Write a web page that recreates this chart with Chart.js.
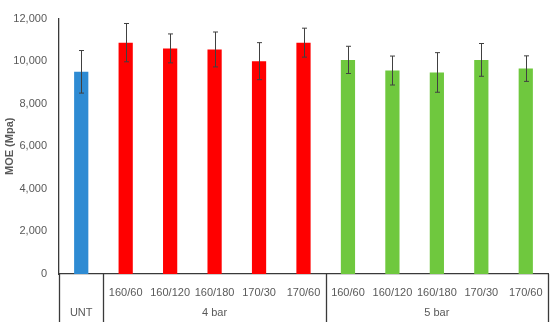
<!DOCTYPE html>
<html>
<head>
<meta charset="utf-8">
<script src="https://cdn.jsdelivr.net/npm/chart.js@4/dist/chart.umd.min.js"></script>
<style>
  html, body { margin: 0; padding: 0; background: #fff; }
  #wrap { width: 550px; height: 325px; }
</style>
</head>
<body>
<div id="wrap"><canvas id="moe-chart"></canvas></div>
<script>
// data
const categories = ['', '160/60', '160/120', '160/180', '170/30', '170/60', '160/60', '160/120', '160/180', '170/30', '170/60'];
const groupNames = ['UNT', '4 bar', '5 bar'];
const groupSizes = [1, 5, 5];
const moeValues = [9500, 10870, 10600, 10550, 10000, 10870, 10060, 9560, 9470, 10060, 9650];
const moeErrors = [1000, 900, 680, 820, 870, 680, 640, 680, 930, 770, 600];
const yTicks = [0, 2000, 4000, 6000, 8000, 10000, 12000];

const groupColors = ['#2E8BD3', '#FF0000', '#6FC83E'];
const barColors = [];
groupSizes.forEach((n, g) => { for (let i = 0; i < n; i++) barColors.push(groupColors[g]); });

const textColor = '#595959';
const axisColor = '#3a3a3a';

// error bars
const errorBars = {
  id: 'errorBars',
  afterDatasetsDraw(chart) {
    const { ctx, scales: { y } } = chart;
    const meta = chart.getDatasetMeta(0);
    ctx.save();
    ctx.strokeStyle = '#404040';
    ctx.lineWidth = 1;
    meta.data.forEach((bar, i) => {
      const x = Math.round(bar.x) + 0.5;
      const top = y.getPixelForValue(moeValues[i] + moeErrors[i]);
      const bot = y.getPixelForValue(moeValues[i] - moeErrors[i]);
      ctx.beginPath();
      ctx.moveTo(x, top); ctx.lineTo(x, bot);
      ctx.moveTo(x - 2.5, top); ctx.lineTo(x + 2.5, top);
      ctx.moveTo(x - 2.5, bot); ctx.lineTo(x + 2.5, bot);
      ctx.stroke();
    });
    ctx.restore();
  }
};

// grouped axis: separators + group labels
const groupAxis = {
  id: 'groupAxis',
  afterDraw(chart) {
    const { ctx, scales: { x }, chartArea } = chart;
    const step = x.width / categories.length;
    const y0 = chartArea.bottom;
    const y1 = chart.height - 3;
    ctx.save();
    ctx.strokeStyle = axisColor;
    ctx.lineWidth = 1.3;
    ctx.fillStyle = textColor;
    ctx.font = '11px "Liberation Sans", Arial, sans-serif';
    ctx.textAlign = 'center';
    ctx.textBaseline = 'middle';
    let start = 0;
    const edges = [0];
    groupSizes.forEach((n, g) => {
      const left = x.left + start * step;
      const right = x.left + (start + n) * step;
      ctx.fillText(groupNames[g], (left + right) / 2, 313);
      start += n;
      edges.push(start);
    });
    edges.forEach((e) => {
      const px = Math.round(x.left + e * step) + 0.5;
      ctx.beginPath();
      ctx.moveTo(px, y0);
      ctx.lineTo(px, y1);
      ctx.stroke();
    });
    ctx.restore();
  }
};

new Chart(document.getElementById('moe-chart'), {
  type: 'bar',
  data: {
    labels: categories,
    datasets: [{
      data: moeValues,
      backgroundColor: barColors,
      borderWidth: 0,
      barPercentage: 0.32,
      categoryPercentage: 1,
    }],
  },
  options: {
    responsive: true,
    maintainAspectRatio: false,
    animation: false,
    layout: { padding: { top: 8, right: 2, left: 3, bottom: 0 } },
    plugins: {
      legend: { display: false },
      tooltip: { enabled: false },
    },
    scales: {
      x: {
        grid: { display: false, drawTicks: false },
        border: { display: true, color: axisColor, width: 1.3 },
        ticks: {
          color: textColor,
          font: { family: '"Liberation Sans", Arial, sans-serif', size: 11 },
          padding: 12,
          maxRotation: 0,
          autoSkip: false,
        },
        afterFit: (scale) => {
          scale.height = 51;
          scale.paddingLeft = 0;
          scale.paddingRight = 0;
        },
      },
      y: {
        min: 0,
        max: 12000,
        afterBuildTicks: (scale) => { scale.ticks = yTicks.map((v) => ({ value: v })); },
        grid: { display: false, drawTicks: false },
        border: { display: true, color: axisColor, width: 1.3 },
        ticks: {
          color: textColor,
          font: { family: '"Liberation Sans", Arial, sans-serif', size: 11 },
          padding: 12,
          callback: (v) => v.toLocaleString('en-US'),
        },
        title: {
          display: true,
          text: 'MOE (Mpa)',
          color: textColor,
          font: { family: '"Liberation Sans", Arial, sans-serif', size: 11, weight: 'bold' },
          padding: 0,
        },
        afterFit: (scale) => { scale.width = 56; },
      },
    },
  },
  plugins: [errorBars, groupAxis],
});
</script>
</body>
</html>
